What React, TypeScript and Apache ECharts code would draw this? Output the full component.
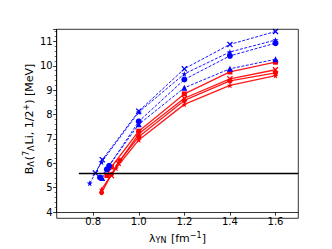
import React, { useEffect, useRef } from "react";
import * as echarts from "echarts";

const yTickLabels = [4, 5, 6, 7, 8, 9, 10, 11];
const xTickValues = [0.8, 1.0, 1.2, 1.4, 1.6];
const experimentalValue = 5.58;
const expLineX = [0.737, 1.7];

const blueX: number[][] = [[0.81, 5.6], [0.84, 6.15], [1.0, 8.14], [1.2, 9.88], [1.4, 10.88], [1.6, 11.41]];
const blueStar: number[][] = [[0.785, 5.18], [0.837, 6.05], [1.0, 8.1], [1.2, 9.67], [1.4, 10.57], [1.6, 11.06]];
const blueCircle: number[][] = [[0.83, 5.42], [0.86, 5.75], [0.87, 5.9], [1.0, 7.72], [1.2, 9.44], [1.4, 10.41], [1.6, 10.93]];
const blueTriangle: number[][] = [[0.84, 5.4], [0.865, 5.85], [1.0, 7.6], [1.2, 9.1], [1.4, 9.88], [1.6, 10.27]];

const redSquare: number[][] = [[0.86, 5.5], [0.88, 5.85], [1.0, 7.32], [1.2, 8.85], [1.4, 9.75], [1.6, 10.15]];
const redX: number[][] = [[0.88, 5.5], [0.91, 6.0], [1.0, 7.21], [1.2, 8.67], [1.4, 9.47], [1.6, 9.84]];
const redCircle: number[][] = [[0.837, 4.8], [0.88, 5.55], [0.917, 6.12], [1.0, 7.09], [1.2, 8.58], [1.4, 9.38], [1.6, 9.71]];
const redStar: number[][] = [[0.837, 4.93], [0.9, 5.8], [1.0, 6.96], [1.2, 8.42], [1.4, 9.2], [1.6, 9.6]];

const yAxisTitle = "{m|B}{s|Λ}{m|(}{p|7}{s|Λ}{m|Li, 1/2}{p|+}{m|) [MeV]}";
const xAxisTitle = "{m|λ}{s|YN}{m| [fm}{p|−1}{m|]}";

const X_SYMBOL = "path://M0,1.5L1.5,0L5,3.5L8.5,0L10,1.5L6.5,5L10,8.5L8.5,10L5,6.5L1.5,10L0,8.5L3.5,5Z";
const STAR_SYMBOL = "path://M5,0L6.2,3.6L10,3.6L6.9,5.8L8.1,9.5L5,7.2L1.9,9.5L3.1,5.8L0,3.6L3.8,3.6Z";

export default function App() {
  const ref = useRef<HTMLDivElement>(null);
  useEffect(() => {
    document.body.style.margin = "0";
    if (!ref.current) return;
    const chart = echarts.init(ref.current, null, { renderer: "svg" });
    const font = "DejaVu Sans";
    const rich = {
      m: { fontFamily: font, fontSize: 11, fill: "#000", color: "#000", lineHeight: 14, verticalAlign: "bottom" },
      s: { fontFamily: font, fontSize: 8, fill: "#000", color: "#000", lineHeight: 14, padding: [4, 1, 0, 0], verticalAlign: "bottom" },
      p: { fontFamily: font, fontSize: 8, fill: "#000", color: "#000", lineHeight: 14, padding: [0, 0, 5, 0], verticalAlign: "bottom" },
    };
    const mk = (data: number[][], color: string, symbol: string, dashed: boolean, size = 5) => ({
      type: "line",
      data,
      symbol,
      symbolSize: size,
      lineStyle: { color, width: dashed ? 1 : 1.3, type: dashed ? [3, 1.5] : "solid", opacity: 0.9 },
      itemStyle: { color },
      z: dashed ? 3 : 2,
    });
    chart.setOption({
      animation: false,
      grid: { left: 56.7, right: 33.7, top: 29.3, bottom: 30.7 },
      xAxis: {
        type: "value",
        min: 0.64,
        max: 1.7,
        name: xAxisTitle,
        nameLocation: "middle",
        nameGap: 14,
        nameTextStyle: { rich },
        axisLine: { show: true, onZero: false, lineStyle: { color: "#000", width: 0.8 } },
        axisTick: { show: true, length: 3.5, customValues: xTickValues, lineStyle: { color: "#000", width: 0.8 } },
        axisLabel: {
          customValues: xTickValues,
          formatter: (v: number) => v.toFixed(1),
          fontFamily: font,
          fontSize: 10,
          color: "#000",
          margin: 4,
        },
        splitLine: { show: false },
      },
      yAxis: {
        type: "value",
        min: 4,
        max: 11.5,
        interval: 1,
        axisLine: { show: true, onZero: false, lineStyle: { color: "#000", width: 0.8 } },
        axisTick: { show: true, length: 3.5, lineStyle: { color: "#000", width: 0.8 } },
        minorTick: { show: true, splitNumber: 5, length: 2, lineStyle: { color: "#000", width: 0.6 } },
        axisLabel: {
          formatter: (v: number) => (yTickLabels.includes(v) ? String(v) : ""),
          fontFamily: font,
          fontSize: 10,
          color: "#000",
          margin: 4,
        },
        splitLine: { show: false },
      },
      graphic: [
        {
          type: "rect",
          shape: { x: 56.7, y: 29.3, width: 241.6, height: 189 },
          style: { fill: "none", stroke: "#000", lineWidth: 0.8 },
          silent: true,
          z: 10,
        },
        {
          type: "text",
          x: 28,
          y: 119,
          rotation: Math.PI / 2,
          style: { text: yAxisTitle, rich, align: "center", verticalAlign: "middle", fill: "#000" },
          silent: true,
          z: 10,
        },
      ],
      series: [
        mk(redSquare, "#ff0000", "rect", false, 5),
        mk(redX, "#ff0000", X_SYMBOL, false, 6),
        mk(redCircle, "#ff0000", "circle", false, 5),
        mk(redStar, "#ff0000", STAR_SYMBOL, false, 6),
        mk(blueX, "#0000ff", X_SYMBOL, true, 6),
        mk(blueStar, "#0000ff", STAR_SYMBOL, true, 6),
        mk(blueCircle, "#0000ff", "circle", true, 6),
        mk(blueTriangle, "#0000ff", "triangle", true, 6),
        {
          type: "line",
          data: [[expLineX[0], experimentalValue], [expLineX[1], experimentalValue]],
          symbol: "none",
          lineStyle: { color: "#000", width: 1.5 },
          z: 5,
        },
      ],
    });
    return () => chart.dispose();
  }, []);
  return <div ref={ref} style={{ width: 332, height: 249 }} />;
}
